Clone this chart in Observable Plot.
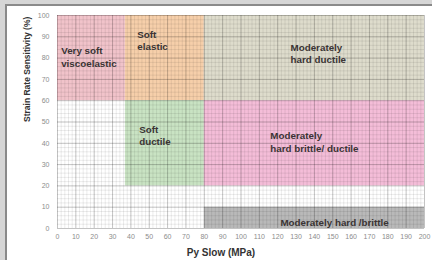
<!DOCTYPE html>
<html>
<head>
<meta charset="utf-8">
<script src="https://cdn.jsdelivr.net/npm/d3@7"></script>
<script src="https://cdn.jsdelivr.net/npm/@observablehq/plot@0.6"></script>
<style>
  html, body { margin: 0; padding: 0; }
  #wrap { position: relative; width: 432px; height: 260px; background: #d6d6d6; overflow: hidden; }
  #paper { position: absolute; left: 5px; top: 4px; right: 0; bottom: 0; background: #fff;
           border-top: 2px solid #8a8a8a; border-left: 2px solid #8a8a8a; }
  #chart { position: absolute; left: 0; top: 0; }
</style>
</head>
<body>
<div id="wrap"><div id="paper"></div><div id="chart"></div></div>
<script>
// Zones (data coordinates)
const zoneNames = ["Very soft viscoelastic", "Soft elastic", "Moderately hard ductile",
                   "Soft ductile", "Moderately hard brittle/ ductile", "Moderately hard /brittle"];
const zoneX1 = [0, 37, 80, 37, 80, 80];
const zoneX2 = [37, 80, 200, 80, 200, 200];
const zoneY1 = [60, 60, 60, 20, 20, 0];
const zoneY2 = [100, 100, 100, 60, 60, 10];

// Zone labels
const labelText = ["Very soft\nviscoelastic", "Soft\nelastic", "Moderately\nhard ductile",
                   "Soft\nductile", "Moderately\nhard brittle/ ductile", "Moderately hard /brittle"];
const labelX = [2, 43.5, 127, 44.5, 116, 121.5];
const labelY = [80.8, 88.5, 82.4, 43.9, 40.8, 3.3];

// Ticks
const xTicks = d3.range(0, 201, 10);
const yTicks = d3.range(0, 101, 10);
const xMinor = d3.range(0, 201, 2);
const yMinor = d3.range(0, 101, 2);

const zones = zoneNames.map((name, i) => ({name, x1: zoneX1[i], x2: zoneX2[i], y1: zoneY1[i], y2: zoneY2[i]}));
const labels = labelText.map((t, i) => ({t, x: labelX[i], y: labelY[i]}));

const chart = Plot.plot({
  width: 432,
  height: 260,
  marginLeft: 57,
  marginRight: 8,
  marginTop: 15,
  marginBottom: 32,
  style: {background: "transparent", fontFamily: "Liberation Sans, Arial, sans-serif"},
  x: {domain: [0, 200]},
  y: {domain: [0, 100]},
  color: {domain: zoneNames, range: ["#f1c3ca", "#f6cfaa", "#dedccc", "#c9e3c3", "#f4bdd8", "#b9b9b9"]},
  marks: [
    Plot.rect(zones, {x1: "x1", x2: "x2", y1: "y1", y2: "y2", fill: "name"}),
    Plot.ruleX(xMinor, {y1: 0, y2: 100, stroke: "#000", strokeOpacity: 0.08, strokeWidth: 1}),
    Plot.ruleY(yMinor, {x1: 0, x2: 200, stroke: "#000", strokeOpacity: 0.08, strokeWidth: 1}),
    Plot.ruleX(xTicks, {y1: 0, y2: 100, stroke: "#000", strokeOpacity: 0.17, strokeWidth: 1}),
    Plot.ruleY(yTicks, {x1: 0, x2: 200, stroke: "#000", strokeOpacity: 0.17, strokeWidth: 1}),
    Plot.axisX({ticks: xTicks, tickSize: 0, tickPadding: 6, fontSize: 7, color: "#8c8c8c", label: null}),
    Plot.axisY({ticks: yTicks, tickSize: 0, tickPadding: 8, fontSize: 7, color: "#8c8c8c", label: null}),
    Plot.text(labels, {x: "x", y: "y", text: "t", textAnchor: "start", lineAnchor: "middle",
      fontSize: 9.8, fontWeight: "bold", fill: "#3a3434", lineHeight: 1.3}),
    Plot.text(["Py Slow (MPa)"], {frameAnchor: "bottom", dx: -20, dy: 27, fontSize: 10,
      fontWeight: "bold", fill: "#333"}),
    Plot.text(["Strain Rate Sensitivity (%)"], {frameAnchor: "left", dx: -30, rotate: -90,
      fontSize: 8.5, fontWeight: "bold", fill: "#333"})
  ]
});
document.getElementById("chart").appendChild(chart);
</script>
</body>
</html>
